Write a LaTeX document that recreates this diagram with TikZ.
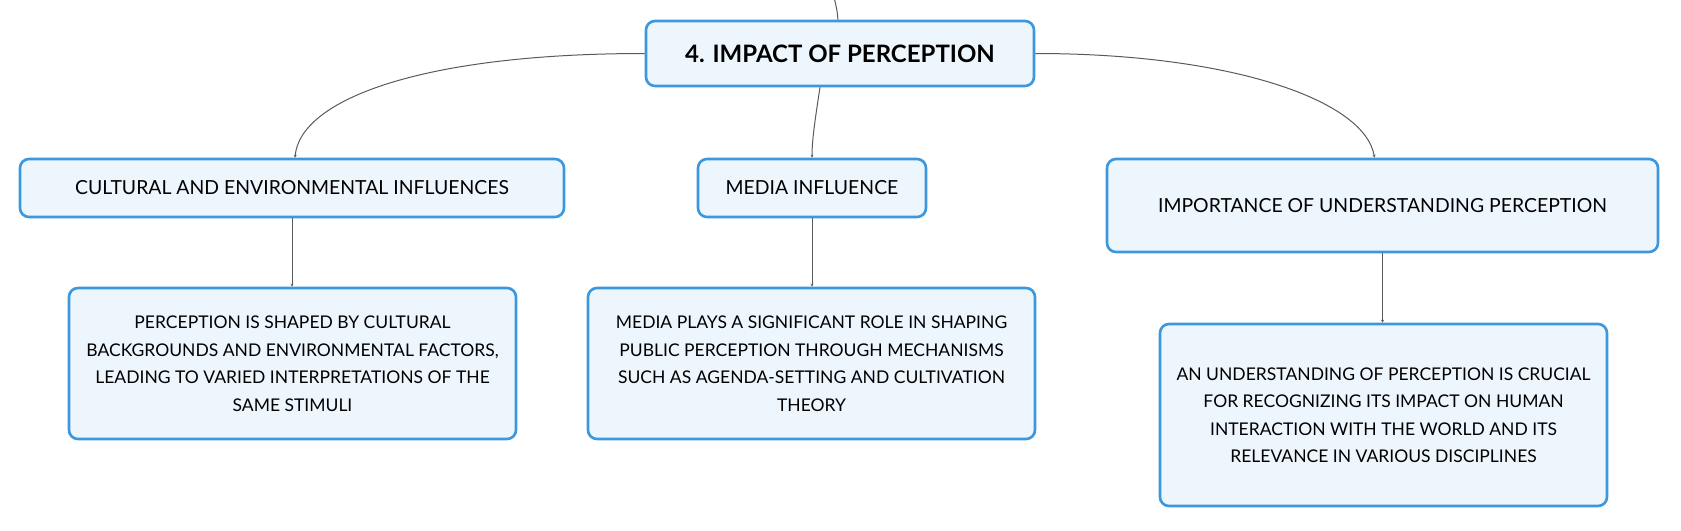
\documentclass[tikz,border=0pt]{standalone}
\usepackage{fontspec}
\setmainfont{Lato}
\usetikzlibrary{arrows.meta}
\definecolor{bd}{HTML}{3B97DE}
\definecolor{fl}{HTML}{EEF6FD}
\definecolor{ln}{HTML}{5A5A5A}
\begin{document}
\begin{tikzpicture}[x=1pt,y=-1pt,
  box/.style={draw=bd, fill=fl, line width=2.6pt, rounded corners=9pt, align=center, inner sep=0pt, text=black},
  head/.style={box, font=\fontsize{19.4}{24}\selectfont},
  desc/.style={box, font=\fontsize{17.5}{27.5}\selectfont},
  conn/.style={draw=ln, line width=1pt, -{Stealth[length=3pt,width=3pt]}}]
\useasboundingbox (0,0) rectangle (1681,530);
\node[box, minimum width=388pt, minimum height=65pt, font=\fontsize{24}{30}\selectfont\bfseries] (t) at (840,53.5) {4. IMPACT OF PERCEPTION};
\node[head, minimum width=544pt, minimum height=58pt] (c1) at (292,188) {CULTURAL AND ENVIRONMENTAL INFLUENCES};
\node[head, minimum width=228pt, minimum height=58pt] (c2) at (812,188) {MEDIA INFLUENCE};
\node[head, minimum width=551pt, minimum height=93pt] (c3) at (1382.5,205.5) {IMPORTANCE OF UNDERSTANDING PERCEPTION};
\node[desc, minimum width=447pt, minimum height=151pt] (d1) at (292.5,363.5) {PERCEPTION IS SHAPED BY CULTURAL\\BACKGROUNDS AND ENVIRONMENTAL FACTORS,\\LEADING TO VARIED INTERPRETATIONS OF THE\\SAME STIMULI};
\node[desc, minimum width=447pt, minimum height=151pt] (d2) at (811.5,363.5) {MEDIA PLAYS A SIGNIFICANT ROLE IN SHAPING\\PUBLIC PERCEPTION THROUGH MECHANISMS\\SUCH AS AGENDA-SETTING AND CULTIVATION\\THEORY};
\node[desc, minimum width=447pt, minimum height=182pt] (d3) at (1383.5,415) {AN UNDERSTANDING OF PERCEPTION IS CRUCIAL\\FOR RECOGNIZING ITS IMPACT ON HUMAN\\INTERACTION WITH THE WORLD AND ITS\\RELEVANCE IN VARIOUS DISCIPLINES};
\coordinate (top) at (834,-3);
\draw[draw=ln, line width=1pt] ([xshift=-2pt]t.north) .. controls (837,10) .. (top);
\draw[conn] (t.west) .. controls (420,53.5) and (300,100) .. ([xshift=3pt]c1.north);
\draw[conn] (t.east) .. controls (1230,53.5) and (1365,100) .. ([xshift=-8pt]c3.north);
\draw[conn] ([xshift=-20pt]t.south) .. controls (815,120) and (812,140) .. (c2.north);
\draw[conn] (c1.south) -- (c1.south |- d1.north);
\draw[conn] (c2.south) -- (c2.south |- d2.north);
\draw[conn] (c3.south) -- (c3.south |- d3.north);
\end{tikzpicture}
\end{document}
